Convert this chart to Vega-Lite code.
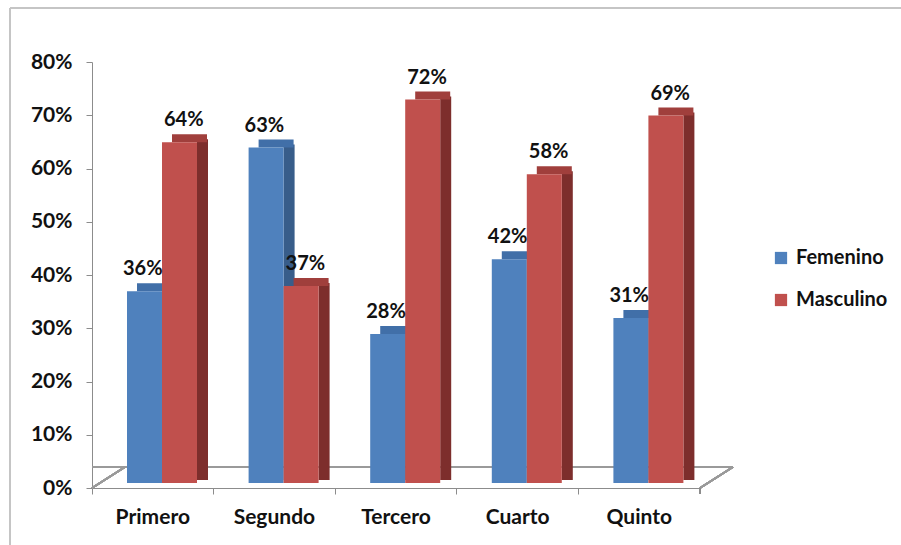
{
  "$schema": "https://vega.github.io/schema/vega-lite/v6.json",
  "width": 608,
  "height": 426,
  "autosize": {"type": "none"},
  "padding": {"left": 92, "top": 62, "right": 201, "bottom": 57},
  "background": "#ffffff",
  "config": {
    "view": {"stroke": null},
    "font": "Lato",
    "axis": {"labelFont": "Lato", "labelFontWeight": "bold", "labelFontSize": 21, "labelColor": "#111111", "domainColor": "#8c8c8c", "tickColor": "#8c8c8c", "tickSize": 6, "grid": false, "title": null}
  },
  "data": {
    "values": [
      {"grado": "Primero", "sexo": "Femenino", "valor": 0.36},
      {"grado": "Primero", "sexo": "Masculino", "valor": 0.64},
      {"grado": "Segundo", "sexo": "Femenino", "valor": 0.63},
      {"grado": "Segundo", "sexo": "Masculino", "valor": 0.37},
      {"grado": "Tercero", "sexo": "Femenino", "valor": 0.28},
      {"grado": "Tercero", "sexo": "Masculino", "valor": 0.72},
      {"grado": "Cuarto", "sexo": "Femenino", "valor": 0.42},
      {"grado": "Cuarto", "sexo": "Masculino", "valor": 0.58},
      {"grado": "Quinto", "sexo": "Femenino", "valor": 0.31},
      {"grado": "Quinto", "sexo": "Masculino", "valor": 0.69}
    ]
  },
  "encoding": {
    "x": {
      "field": "grado", "type": "nominal",
      "sort": ["Primero", "Segundo", "Tercero", "Cuarto", "Quinto"],
      "scale": {"paddingInner": 0, "paddingOuter": 0},
      "axis": {"bandPosition": 0, "labelAngle": 0, "labelPadding": 12}
    },
    "y": {
      "field": "valor", "type": "quantitative",
      "scale": {"domain": [0, 0.8], "nice": false},
      "axis": {"format": ".0%", "values": [0, 0.1, 0.2, 0.3, 0.4, 0.5, 0.6, 0.7, 0.8], "labelPadding": 14}
    }
  },
  "layer": [
    {
      "mark": {"type": "rule", "color": "#c4c4c4", "strokeWidth": 1.5, "yOffset": -54, "y2Offset": -54, "xOffset": -82, "x2Offset": 205},
      "encoding": {
        "x": {"datum": "Primero", "bandPosition": 0},
        "x2": {"datum": "Quinto", "bandPosition": 1},
        "y": {"datum": 0.8},
        "y2": {"datum": 0.8}
      }
    },
    {
      "mark": {"type": "rule", "color": "#c4c4c4", "strokeWidth": 1.5, "xOffset": -82, "x2Offset": -82, "yOffset": -54, "y2Offset": 62},
      "encoding": {
        "x": {"datum": "Primero", "bandPosition": 0},
        "x2": {"datum": "Primero", "bandPosition": 0},
        "y": {"datum": 0.8},
        "y2": {"datum": 0}
      }
    },
    {
      "mark": {"type": "rule", "color": "#9a9a9a", "strokeWidth": 1.5, "yOffset": -21, "xOffset": 33},
      "encoding": {"x": null, "y": {"datum": 0}}
    },
    {
      "mark": {"type": "rule", "color": "#9a9a9a", "strokeWidth": 1.5, "x2Offset": 33, "y2Offset": -21},
      "encoding": {
        "x": {"datum": "Primero", "bandPosition": 0},
        "x2": {"datum": "Primero", "bandPosition": 0},
        "y": {"datum": 0},
        "y2": {"datum": 0}
      }
    },
    {
      "mark": {"type": "rule", "color": "#9a9a9a", "strokeWidth": 1.5, "x2Offset": 33, "y2Offset": -21},
      "encoding": {
        "x": {"datum": "Quinto", "bandPosition": 1},
        "x2": {"datum": "Quinto", "bandPosition": 1},
        "y": {"datum": 0},
        "y2": {"datum": 0}
      }
    },
    {
      "mark": {"type": "rule", "color": "#8c8c8c", "y2Offset": 6},
      "encoding": {
        "x": {"datum": "Quinto", "bandPosition": 1},
        "y": {"datum": 0},
        "y2": {"datum": 0}
      }
    },
    {
      "mark": {"type": "bar", "width": 11, "yOffset": -8},
      "encoding": {
        "xOffset": {"field": "sexo", "type": "nominal", "scale": {"domain": ["Femenino", "Masculino"], "range": [58, 128], "paddingInner": 0, "paddingOuter": 0}},
        "color": {
          "field": "sexo", "type": "nominal",
          "scale": {"domain": ["Femenino", "Masculino"], "range": ["#385d8a", "#7d2e2c"]},
          "legend": null
        }
      }
    },
    {
      "mark": {"type": "tick", "orient": "horizontal", "size": 35, "thickness": 8, "yOffset": -9, "opacity": 1},
      "encoding": {
        "xOffset": {"field": "sexo", "type": "nominal", "scale": {"domain": ["Femenino", "Masculino"], "range": [45, 115], "paddingInner": 0, "paddingOuter": 0}},
        "color": {
          "field": "sexo", "type": "nominal",
          "scale": {"domain": ["Femenino", "Masculino"], "range": ["#416fa8", "#a03f3c"]},
          "legend": null
        }
      }
    },
    {
      "mark": {"type": "bar", "yOffset": -5},
      "encoding": {
        "xOffset": {"field": "sexo", "type": "nominal", "scale": {"domain": ["Femenino", "Masculino"], "range": [35, 105], "paddingInner": 0, "paddingOuter": 0}},
        "color": {
          "field": "sexo", "type": "nominal",
          "scale": {"domain": ["Femenino", "Masculino"], "range": ["#4f81bd", "#c0504d"]},
          "legend": {
            "title": null, "orient": "none", "legendX": 679, "legendY": 186,
            "symbolType": "square", "symbolSize": 150, "symbolStrokeWidth": 0,
            "labelFont": "Lato", "labelFontWeight": "bold", "labelFontSize": 20, "labelColor": "#111111",
            "rowPadding": 22, "labelOffset": 5
          }
        }
      }
    },
    {
      "transform": [{"filter": "datum.sexo === 'Femenino'"}],
      "mark": {"type": "text", "font": "Lato", "fontWeight": "bold", "fontSize": 20, "color": "#111111", "baseline": "alphabetic", "xOffset": -10, "yOffset": -21},
      "encoding": {"text": {"field": "valor", "type": "quantitative", "format": ".0%"}}
    },
    {
      "transform": [{"filter": "datum.sexo === 'Masculino'"}],
      "mark": {"type": "text", "font": "Lato", "fontWeight": "bold", "fontSize": 20, "color": "#111111", "baseline": "alphabetic", "xOffset": 31, "yOffset": -21},
      "encoding": {"text": {"field": "valor", "type": "quantitative", "format": ".0%"}}
    }
  ],
  "resolve": {"scale": {"color": "independent", "xOffset": "independent"}}
}
